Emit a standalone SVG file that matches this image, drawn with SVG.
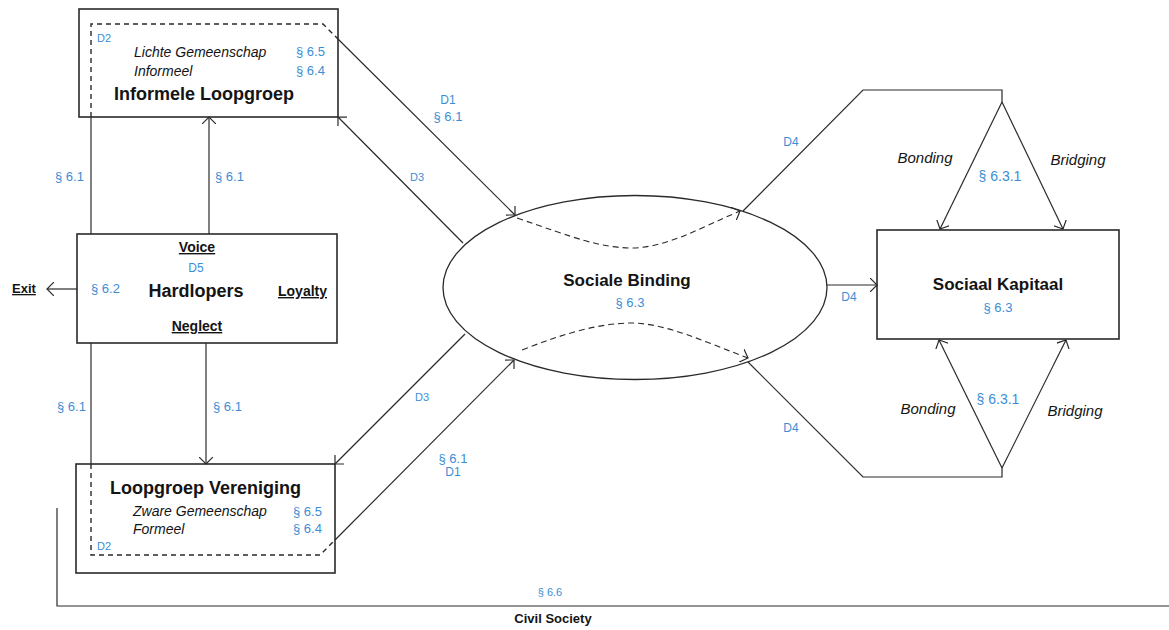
<svg xmlns="http://www.w3.org/2000/svg" width="1169" height="630" viewBox="0 0 1169 630">
<style>
text{font-family:"Liberation Sans",Arial,sans-serif;fill:#141414}
.b{font-weight:bold}
.t18{font-size:18px}
.t17{font-size:17px}
.u{text-decoration:underline}
.i{font-style:italic;font-size:14px}
.i15{font-style:italic;font-size:15px}
.bl{fill:#3b8ed6;font-size:13px}
.s11{font-size:11px}
.s12{font-size:12px}
.s14{font-size:14px}
.m{text-anchor:middle}
.box{fill:#fff;stroke:#2a2a2a;stroke-width:1.6}
.ln{fill:none;stroke:#2a2a2a;stroke-width:1.2}
.dash{fill:none;stroke:#2a2a2a;stroke-width:1.4;stroke-dasharray:5 4}
.dash2{fill:none;stroke:#2a2a2a;stroke-width:1.1;stroke-dasharray:6 4}
.arr{marker-end:url(#ah)}
</style>
<defs>
<marker id="ah" viewBox="0 0 10 14" refX="7" refY="7" markerWidth="10" markerHeight="14" markerUnits="userSpaceOnUse" orient="auto">
<path d="M0,0 L7,7 L0,14" fill="none" stroke="#2a2a2a" stroke-width="1.2"/>
</marker>
</defs>
<rect width="1169" height="630" fill="#fff"/>

<g id="informele-loopgroep">
<rect class="box" x="79" y="9" width="259" height="108"/>
<path class="dash" d="M91,117 V24 H323 L338,39"/>
<text class="bl s11" x="97" y="42">D2</text>
<text class="i" x="134" y="57">Lichte Gemeenschap</text>
<text class="i" x="134" y="76">Informeel</text>
<text class="bl" x="296" y="56">§ 6.5</text>
<text class="bl" x="296" y="75">§ 6.4</text>
<text class="b t18" x="114" y="100">Informele Loopgroep</text>
</g>

<g id="hardlopers">
<rect class="box" x="77" y="234" width="260" height="109"/>
<text class="b s14 u m" x="197" y="252">Voice</text>
<text class="bl s12 m" x="196" y="272">D5</text>
<text class="b t18 m" x="196" y="297">Hardlopers</text>
<text class="bl" x="91" y="293">§ 6.2</text>
<text class="b s14 u" x="278" y="296">Loyalty</text>
<text class="b s14 u m" x="197" y="331">Neglect</text>
</g>

<g id="exit">
<text class="b u" style="font-size:13px" x="12" y="293">Exit</text>
</g>

<g id="loopgroep-vereniging">
<rect class="box" x="76" y="464" width="259" height="109"/>
<path class="dash" d="M91,464 V555 H320 L335,540"/>
<text class="b t18" x="110" y="494">Loopgroep Vereniging</text>
<text class="i" x="133" y="516">Zware Gemeenschap</text>
<text class="i" x="133" y="534">Formeel</text>
<text class="bl" x="293" y="516">§ 6.5</text>
<text class="bl" x="293" y="533">§ 6.4</text>
<text class="bl s11" x="97" y="550">D2</text>
</g>

<g id="sociale-binding">
<ellipse cx="635" cy="287.5" rx="192" ry="92" fill="#fff" stroke="#2a2a2a" stroke-width="1.3"/>
<text class="b t17 m" x="627" y="286">Sociale Binding</text>
<text class="bl m" x="630" y="307">§ 6.3</text>
</g>

<g id="sociaal-kapitaal">
<rect class="box" x="877" y="230" width="242" height="109"/>
<text class="b t17 m" x="998" y="290">Sociaal Kapitaal</text>
<text class="bl m" x="998" y="312">§ 6.3</text>
</g>

<g id="civil-society">
<path class="ln" d="M57,508 V606 H1169" stroke-width="1.5"/>
<text class="bl m" style="font-size:11px" x="550" y="596">§ 6.6</text>
<text class="b m" style="font-size:13px" x="553" y="623">Civil Society</text>
</g>

<g id="connectors">
<line class="ln arr" x1="77" y1="289" x2="47" y2="289"/>
<line class="ln" x1="91" y1="117" x2="91" y2="234"/>
<line class="ln arr" x1="209" y1="234" x2="209" y2="117"/>
<line class="ln" x1="91" y1="343" x2="91" y2="464"/>
<line class="ln arr" x1="206" y1="343" x2="206" y2="464"/>
<line class="ln arr" x1="338" y1="39" x2="515" y2="215"/>
<line class="ln arr" x1="463" y1="243" x2="338" y2="117"/>
<line class="ln arr" x1="465" y1="334" x2="335" y2="464"/>
<line class="ln arr" x1="335" y1="540" x2="514" y2="360"/>
<path class="dash2 arr" d="M517,218 C575,238 600,248 633,248 C668,247 700,228 740,211"/>
<path class="dash2 arr" d="M522,350 C565,333 600,323 633,323 C668,324 705,342 748,358"/>
<path class="ln" d="M743,211 L863,90 H1002 V102"/>
<line class="ln arr" x1="1002" y1="102" x2="940" y2="229"/>
<line class="ln arr" x1="1002" y1="102" x2="1063" y2="229"/>
<path class="ln" d="M748,362 L863,477 H1002 V468"/>
<line class="ln arr" x1="1002" y1="468" x2="939" y2="340"/>
<line class="ln arr" x1="1002" y1="468" x2="1066" y2="340"/>
<line class="ln arr" x1="827" y1="285" x2="877" y2="285"/>
</g>

<g id="labels">
<text class="bl" x="55" y="181">§ 6.1</text>
<text class="bl" x="215" y="181">§ 6.1</text>
<text class="bl" x="57" y="411">§ 6.1</text>
<text class="bl" x="213" y="411">§ 6.1</text>
<text class="bl s12 m" x="448" y="104">D1</text>
<text class="bl m" x="448" y="121">§ 6.1</text>
<text class="bl s11 m" x="417" y="181">D3</text>
<text class="bl s11 m" x="422" y="401">D3</text>
<text class="bl m" x="453" y="463">§ 6.1</text>
<text class="bl s12 m" x="453" y="476">D1</text>
<text class="bl s12 m" x="791" y="146">D4</text>
<text class="bl s12 m" x="849" y="301">D4</text>
<text class="bl s12 m" x="791" y="432">D4</text>
<text class="i15 m" x="925" y="163">Bonding</text>
<text class="bl s14 m" x="1000" y="181">§ 6.3.1</text>
<text class="i15 m" x="1078" y="165">Bridging</text>
<text class="i15 m" x="928" y="414">Bonding</text>
<text class="bl s14 m" x="998" y="404">§ 6.3.1</text>
<text class="i15 m" x="1075" y="416">Bridging</text>
</g>
</svg>
